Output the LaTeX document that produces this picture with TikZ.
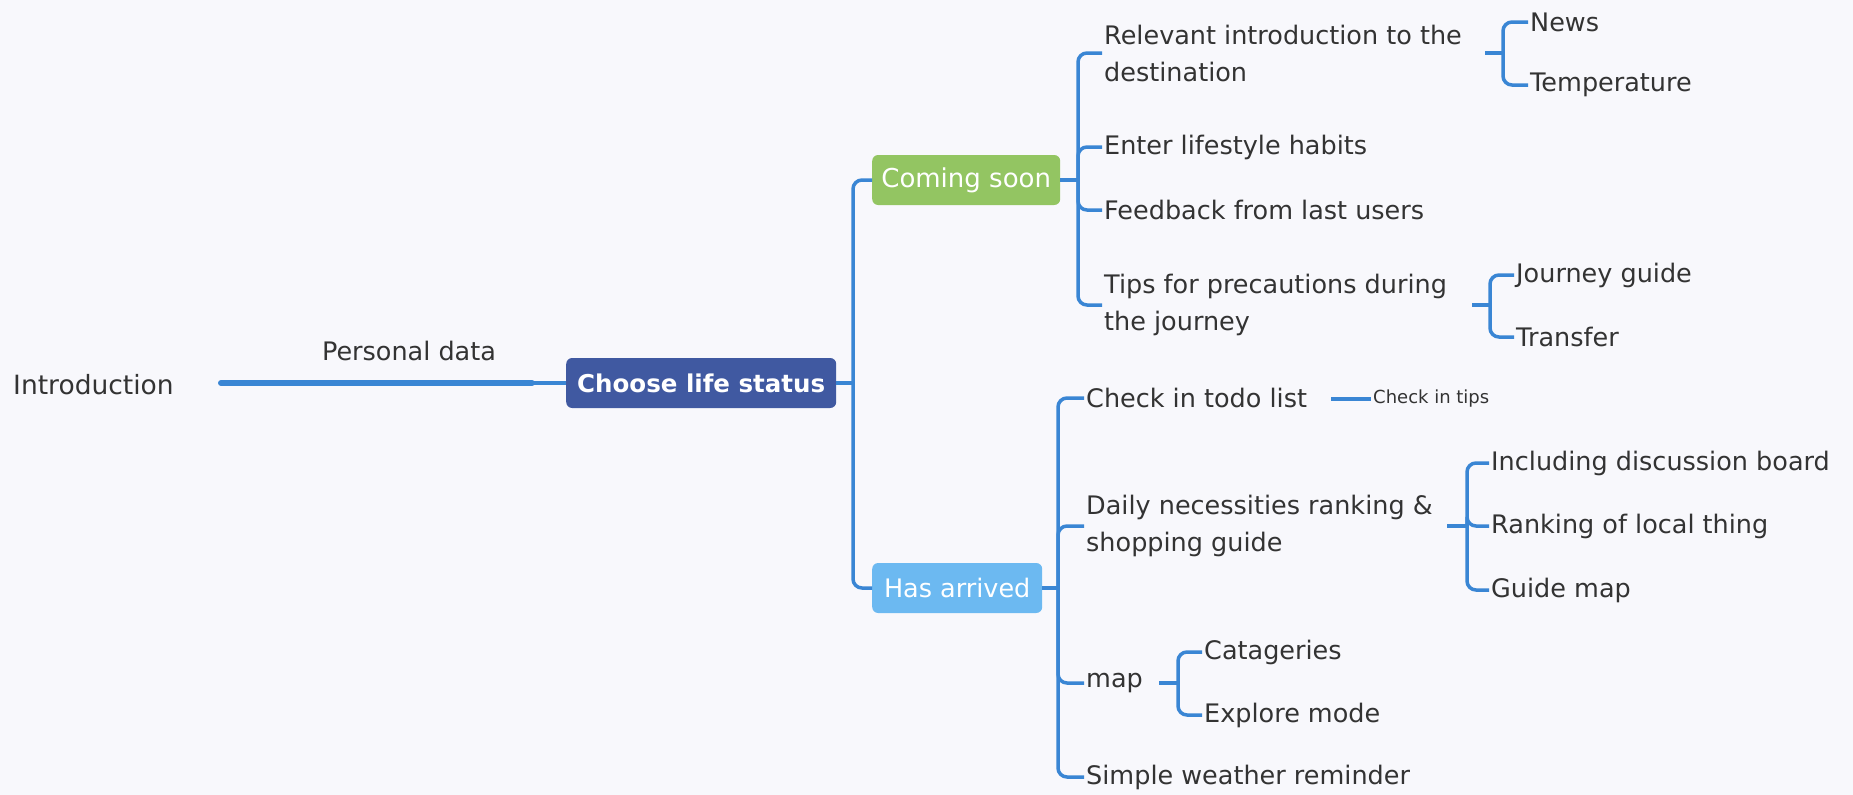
\documentclass[tikz,border=0pt]{standalone}
\usepackage{fontspec}
\setmainfont{DejaVu Sans}
\definecolor{bgc}{HTML}{F8F8FC}
\definecolor{lnc}{HTML}{3A86D4}
\definecolor{txc}{HTML}{333333}
\definecolor{darkbox}{HTML}{4059A1}
\definecolor{greenbox}{HTML}{93C562}
\definecolor{bluebox}{HTML}{6CB9F1}
\begin{document}
\begin{tikzpicture}[x=1pt,y=-1pt,
  txt/.style={text=txc,inner xsep=2pt,inner ysep=0pt,font=\fontsize{25.5}{37}\selectfont,align=left,anchor=west},
  smalltxt/.style={text=txc,inner xsep=2pt,inner ysep=0pt,font=\fontsize{18}{20}\selectfont,anchor=west},
  hbox/.style={rounded corners=6pt,text=white,inner sep=0pt,minimum height=50pt,anchor=west},
  br/.style={draw=lnc,line width=3.5pt,rounded corners=9pt},
  stub/.style={draw=lnc,line width=3.5pt}]
\path[fill=bgc] (0,0) rectangle (1853,795);

% root and main line
\node[txt,font=\fontsize{26.5}{30}\selectfont] (intro) at (11,385) {Introduction};
\node[hbox,fill=darkbox,minimum width=270pt,font=\fontsize{24.5}{30}\selectfont\bfseries] (choose) at (566,383) {Choose life status};
\coordinate (ls) at (221,383);
\coordinate (lm) at (532,383);
\draw[lnc,line width=6pt,line cap=round] (ls) -- (lm);
\draw[stub] (lm) -- (choose.west);
\node[txt,anchor=center,font=\fontsize{25.5}{30}\selectfont] (pd) at (409,351) {Personal data};

% level 1
\node[hbox,fill=greenbox,minimum width=188pt,font=\fontsize{26}{30}\selectfont] (coming) at (872,180) {Coming soon};
\node[hbox,fill=bluebox,minimum width=170pt,font=\fontsize{25.5}{30}\selectfont] (arrived) at (872,588) {Has arrived};
\coordinate (trunk) at (853,383);
\draw[stub] (choose.east) -- (trunk);
\draw[br] (trunk) |- (coming.west);
\draw[br] (trunk) |- (arrived.west);

% coming soon children
\coordinate (cb) at (1078,180);
\draw[stub] (coming.east) -- (cb);
\node[txt] (rel) at (1102,53) {Relevant introduction to the\\destination};
\node[txt] (enter) at (1102,147) {Enter lifestyle habits};
\node[txt] (feed) at (1102,210) {Feedback from last users};
\node[txt] (tips) at (1102,305) {Tips for precautions during\\the journey};
\foreach \c in {rel,enter,feed,tips} \draw[br] (cb) |- (\c.west);

% relevant children
\coordinate (rs) at (1485,53);
\coordinate (rb) at (1503,53);
\draw[stub] (rs) -- (rb);
\node[txt] (news) at (1528,22) {News};
\node[txt] (temp) at (1528,85) {Temperature};
\foreach \c in {news,temp} \draw[br] (rb) |- (\c.west);

% tips children
\coordinate (ts) at (1472,305);
\coordinate (tb) at (1490,305);
\draw[stub] (ts) -- (tb);
\node[txt] (jg) at (1514,275) {Journey guide};
\node[txt] (tr) at (1514,337) {Transfer};
\foreach \c in {jg,tr} \draw[br] (tb) |- (\c.west);

% has arrived children
\coordinate (ab) at (1058,588);
\draw[stub] (arrived.east) -- (ab);
\node[txt] (check) at (1084,398) {Check in todo list};
\node[txt] (daily) at (1084,526) {Daily necessities ranking \&\\shopping guide};
\node[txt] (map) at (1084,683) {map};
\node[txt] (weather) at (1084,777) {Simple weather reminder};
\foreach \c in {check,daily,map,weather} \draw[br] (ab) |- (\c.west);

% check in tips
\coordinate (cs) at (1331,399);
\node[smalltxt] (tipsn) at (1371,399) {Check in tips};
\draw[stub] (cs) -- (tipsn.west);

% daily children
\coordinate (ds) at (1447,526);
\coordinate (db) at (1467,526);
\draw[stub] (ds) -- (db);
\node[txt] (incl) at (1489,463) {Including discussion board};
\node[txt] (rank) at (1489,526) {Ranking of local thing};
\node[txt] (guide) at (1489,590) {Guide map};
\foreach \c in {incl,rank,guide} \draw[br] (db) |- (\c.west);

% map children
\coordinate (ms) at (1159,683);
\coordinate (mb) at (1178,683);
\draw[stub] (ms) -- (mb);
\node[txt] (cat) at (1202,652) {Catageries};
\node[txt] (expl) at (1202,715) {Explore mode};
\foreach \c in {cat,expl} \draw[br] (mb) |- (\c.west);
\end{tikzpicture}
\end{document}
